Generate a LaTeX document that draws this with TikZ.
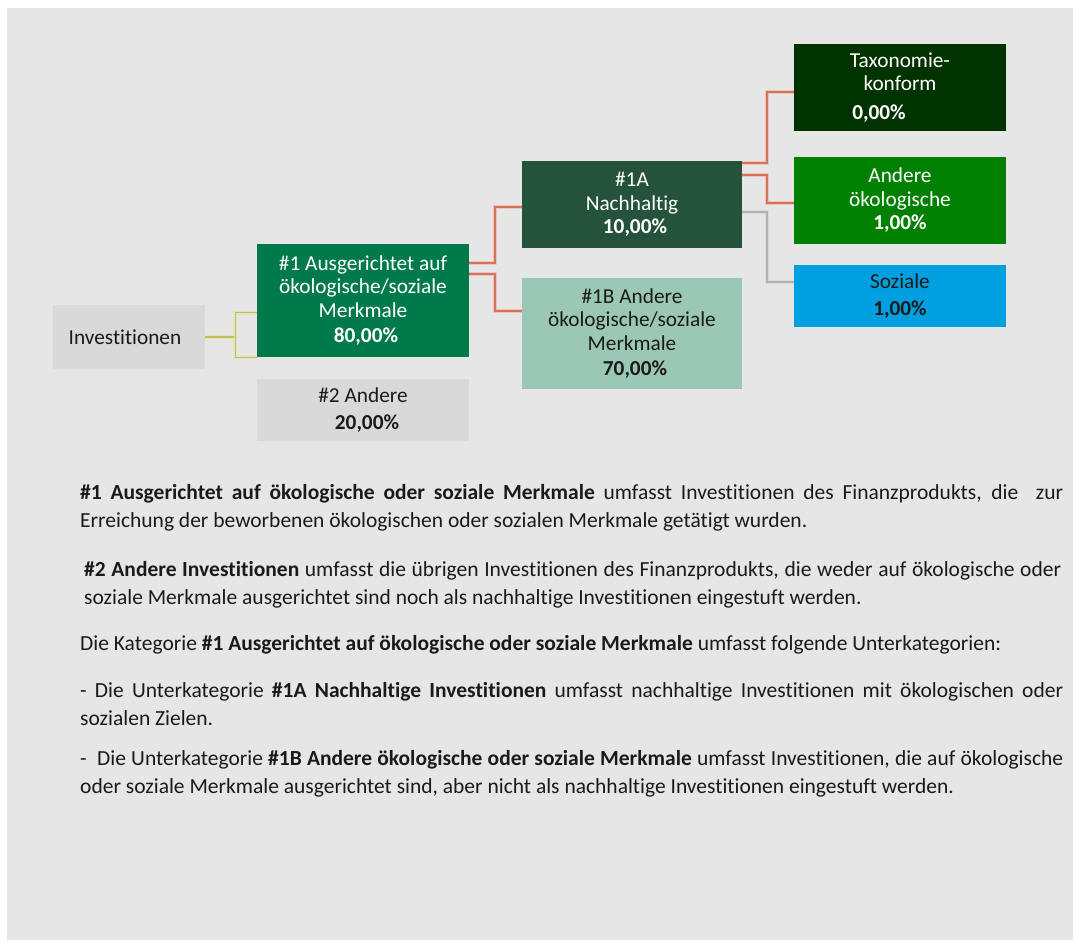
\documentclass[tikz,border=0pt]{standalone}
\usepackage{fontspec}
\setmainfont{Carlito}[Ligatures=NoCommon]
\definecolor{bgc}{HTML}{E6E6E6}
\definecolor{lgray}{HTML}{D9D9D9}
\definecolor{cone}{HTML}{007A4B}
\definecolor{coneA}{HTML}{25523A}
\definecolor{coneB}{HTML}{9BC8B6}
\definecolor{ctax}{HTML}{003300}
\definecolor{cando}{HTML}{008000}
\definecolor{csoz}{HTML}{00A0E0}
\definecolor{corange}{HTML}{D6735A}
\definecolor{corangel}{HTML}{E8B0A2}
\definecolor{cgrayl}{HTML}{B2B2B2}
\definecolor{cgrayll}{HTML}{D4D4D4}
\definecolor{colive}{HTML}{C2C24A}
\definecolor{colivel}{HTML}{E2E2AC}
\definecolor{txt}{HTML}{1A1A1A}
\begin{document}
\begin{tikzpicture}[x=1pt,y=-1pt,
  box/.style={rectangle, inner sep=0pt, align=center, font=\fontsize{21.3}{23.5}\selectfont},
  orangeline/.style={corange, line width=2pt, preaction={draw, corangel, line width=4pt, opacity=0.6}},
  grayline/.style={cgrayl, line width=2pt, preaction={draw, cgrayll, line width=4pt, opacity=0.6}},
  oliveline/.style={colive, line width=1.3pt, preaction={draw, colivel, line width=3.5pt, opacity=0.5}},
  para/.style={anchor=base west, inner sep=0pt, text=txt}
]
\useasboundingbox (0,0) rectangle (1077,941);
\fill[white] (0,0) rectangle (1077,941);
\fill[bgc] (7,8) rectangle (1073,940);

% boxes
\node[box, fill=lgray, minimum width=152pt, minimum height=64pt, text=txt] (inv) at (129,337) {Investitionen\hspace*{8pt}};
\node[box, fill=cone, minimum width=212pt, minimum height=113pt, text=white] (b1) at (363,300.5)
  {\#1 Ausgerichtet auf\\ökologische/soziale\\Merkmale\\[2pt]\hspace*{6pt}\textbf{80,00\%}};
\node[box, fill=lgray, minimum width=212pt, minimum height=62pt, text=txt] (b2) at (363,410)
  {\#2 Andere\\[4pt]\hspace*{8pt}\textbf{20,00\%}};
\node[box, fill=coneA, minimum width=220pt, minimum height=87pt, text=white] (b1a) at (632,204.5)
  {\#1A\\Nachhaltig\\\hspace*{6pt}\textbf{10,00\%}};
\node[box, fill=coneB, minimum width=220pt, minimum height=111pt, text=txt] (b1b) at (632,333.5)
  {\#1B Andere\\ökologische/soziale\\Merkmale\\[2pt]\hspace*{6pt}\textbf{70,00\%}};
\node[box, fill=ctax, minimum width=212pt, minimum height=87pt, text=white] (tax) at (900,87.5)
  {Taxonomie-\\konform\\[5pt]\textbf{0,00\%}\hspace*{42pt}};
\node[box, fill=cando, minimum width=212pt, minimum height=87pt, text=white] (ando) at (900,200.5)
  {Andere\\ökologische\\\textbf{1,00\%}};
\node[box, fill=csoz, minimum width=212pt, minimum height=62pt, text=txt] (soz) at (900,296)
  {Soziale\\[4pt]\textbf{1,00\%}};

% connectors
\draw[oliveline] (inv.east) -- ++(30,0) coordinate (bk);
\draw[oliveline] ([yshift=-69pt]b1.north west) -| (bk) |- (b1.south west);

\draw[orangeline] ([yshift=-19pt]b1.north east) -- ++(26,0) |- ([yshift=-3pt]b1a.west);
\draw[orangeline] ([yshift=-30pt]b1.north east) -- ++(26,0) |- ([yshift=-33pt]b1b.north west);

\draw[orangeline] ([yshift=-2pt]b1a.north east) -- ++(25,0) |- ([yshift=-4.5pt]tax.west);
\draw[orangeline] ([yshift=-14pt]b1a.north east) -- ++(25,0) |- ([yshift=-2.5pt]ando.west);
\draw[grayline] ([yshift=-51pt]b1a.north east) -- ++(25,0) |- ([yshift=-17pt]soz.north west);

% text
\begin{scope}[font=\fontsize{21.5}{28}\selectfont]
\node[para] (p1) at (80,499) {\parbox[t]{983pt}{%
\makebox[983pt][s]{\textbf{\#1 Ausgerichtet auf ökologische oder soziale Merkmale} umfasst Investitionen des Finanzprodukts, die \ zur}\\
Erreichung der beworbenen ökologischen oder sozialen Merkmale getätigt wurden.}};
\node[para] (p2) at (84,576) {\parbox[t]{977pt}{%
\makebox[977pt][s]{\textbf{\#2 Andere Investitionen} umfasst die übrigen Investitionen des Finanzprodukts, die weder auf ökologische oder}\\
soziale Merkmale ausgerichtet sind noch als nachhaltige Investitionen eingestuft werden.}};
\node[para] (p3) at (80,650) {Die Kategorie \textbf{\#1 Ausgerichtet auf ökologische oder soziale Merkmale} umfasst folgende Unterkategorien:};
\node[para] (p4) at (80,697) {\parbox[t]{983pt}{%
\makebox[983pt][s]{- Die Unterkategorie \textbf{\#1A Nachhaltige Investitionen} umfasst nachhaltige Investitionen mit ökologischen oder}\\
sozialen Zielen.}};
\node[para] (p5) at (80,765) {\parbox[t]{983pt}{%
\makebox[983pt][s]{- \ Die Unterkategorie \textbf{\#1B Andere ökologische oder soziale Merkmale} umfasst Investitionen, die auf ökologische}\\
oder soziale Merkmale ausgerichtet sind, aber nicht als nachhaltige Investitionen eingestuft werden.}};
\end{scope}
\end{tikzpicture}
\end{document}
